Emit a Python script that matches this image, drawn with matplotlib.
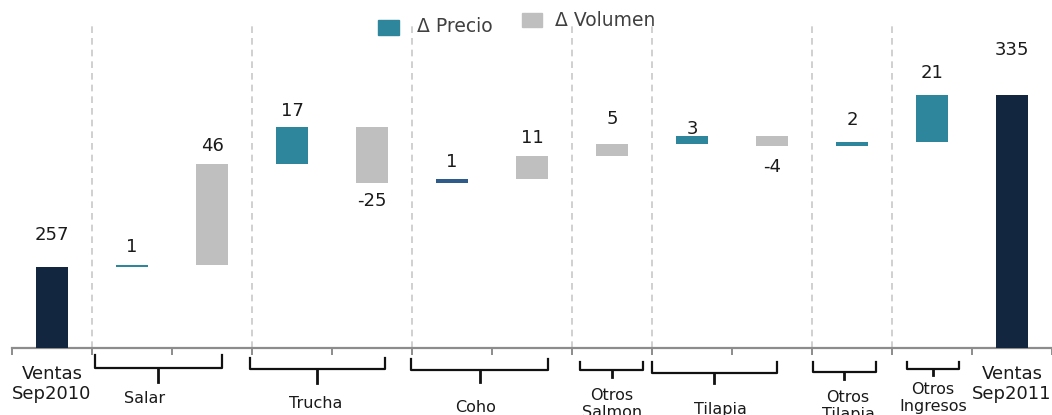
import matplotlib
matplotlib.use("Agg")
import matplotlib.pyplot as plt
from matplotlib.patches import Rectangle
from matplotlib.transforms import blended_transform_factory

# ---------------- data ----------------
categories = ["Ventas\nSep2010", "Salar P", "Salar V", "Trucha P", "Trucha V",
              "Coho P", "Coho V", "Otros Salmon", "Tilapia P", "Tilapia V",
              "Otros Tilapia", "Otros Ingresos", "Ventas\nSep2011"]
start_total = 257
end_total = 335
deltas = [0.8, 46.0, 16.6, -25.6, 1.8, 10.6, 5.5, 3.4, -4.5, 1.9, 21.5]
value_labels = ["257", "1", "46", "17", "-25", "1", "11", "5", "3", "-4", "2", "21", "335"]
kinds = ["total", "price", "volume", "price", "volume", "price2", "volume",
         "volume", "price", "volume", "price", "price", "total"]
group_labels = ["Salar", "Trucha", "Coho", "Otros\nSalmon", "Tilapia",
                "Otros\nTilapia", "Otros\nIngresos"]
legend_labels = ["\u0394 Precio", "\u0394 Volumen"]

# ---------------- style ----------------
W, H = 1052, 415
colors = {"total": "#13263F", "price": "#2E869C", "price2": "#2F5B8B",
          "volume": "#BFBFBF"}
label_offsets = [32, 18, 18, 16, 18, 17, 18, 25, 7, 21, 22, 22, 45]  # px
separators = [0.5, 2.5, 4.5, 6.5, 7.5, 9.5, 10.5]
# bracket spans (data x) and vertical levels (px from top): top, horizontal, tip
brackets = [(0.54, 2.12, 355, 368, 382), (2.47, 4.16, 358, 369, 383),
            (4.49, 6.20, 359, 370, 382), (6.60, 7.39, 362, 370, 377),
            (7.50, 9.06, 362, 373, 383), (9.51, 10.30, 362, 372, 379),
            (10.69, 11.34, 362, 369, 375)]
group_pos = [(1.16, 398), (3.29, 403), (5.29, 407), (7.0, 404),
             (8.35, 409), (9.95, 406), (11.01, 398)]

fig = plt.figure(figsize=(W / 100, H / 100), dpi=100)
ax = fig.add_axes([12 / W, 67 / H, 1040 / W, 326 / H])
ax.set_xlim(-0.5, len(categories) - 0.5)
ax.set_ylim(220, 368.1)

# waterfall bars
x = list(range(len(categories)))
level = start_total
bottoms, heights = [0], [start_total]
for d in deltas:
    bottoms.append(level); heights.append(d)
    level += d
bottoms.append(0); heights.append(end_total)

ax.bar(x, heights, bottom=bottoms, width=0.4,
       color=[colors[k] for k in kinds], zorder=3)

for i, (b, h, lab, off) in enumerate(zip(bottoms, heights, value_labels, label_offsets)):
    anchor = b + h
    dy = off if h >= 0 else -off
    ax.annotate(lab, xy=(i, anchor), xytext=(0, dy), textcoords="offset pixels",
                ha="center", va="center", fontsize=13, color="#1a1a1a",
                zorder=5)

# separators
for s in separators:
    ax.axvline(s, color="#C8C8C8", lw=1.2, ls=(0, (4, 3)), zorder=1)

# axis styling
for sp in ["top", "right", "left"]:
    ax.spines[sp].set_visible(False)
ax.spines["bottom"].set_color("#8C8C8C")
ax.spines["bottom"].set_linewidth(1.6)
ax.set_yticks([])
ax.set_xticks([i - 0.5 for i in range(len(categories) + 1)])
ax.set_xticklabels([])
ax.tick_params(axis="x", direction="out", length=5, width=1.4, color="#8C8C8C")

# brackets & group labels
tr = blended_transform_factory(ax.transData, fig.transFigure)
fy = lambda py: 1 - py / H
for (x0, x1, yt, yh, ytip) in brackets:
    xc = (x0 + x1) / 2
    ax.plot([x0, x0, x1, x1], [fy(yt), fy(yh), fy(yh), fy(yt)], color="#111111",
            lw=1.6, transform=tr, clip_on=False, solid_joinstyle="round")
    ax.plot([xc, xc], [fy(yh), fy(ytip)], color="#111111", lw=2.0,
            transform=tr, clip_on=False)
for lab, (gx, gy) in zip(group_labels, group_pos):
    ax.text(gx, fy(gy), lab, transform=tr, ha="center", va="center",
            fontsize=11.5, color="#1a1a1a", linespacing=1.15, clip_on=False)

for i in (0, len(categories) - 1):
    ax.text(i, fy(384), categories[i], transform=tr, ha="center", va="center",
            fontsize=13, color="#1a1a1a", linespacing=1.1, clip_on=False)

# legend (manual)
fig.add_artist(Rectangle((378 / W, fy(35)), 21 / W, 15 / H,
                         transform=fig.transFigure, color=colors["price"]))
fig.text(417 / W, fy(26), legend_labels[0], ha="left", va="center",
         fontsize=13.5, color="#404040")
fig.add_artist(Rectangle((522 / W, fy(27)), 20 / W, 14 / H,
                         transform=fig.transFigure, color=colors["volume"]))
fig.text(555 / W, fy(20), legend_labels[1], ha="left", va="center",
         fontsize=13.5, color="#404040")

fig.savefig("out.png", dpi=100)
